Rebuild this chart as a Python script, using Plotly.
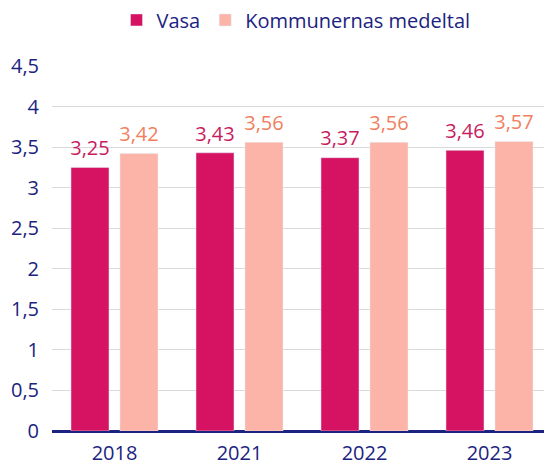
import plotly.graph_objects as go

years = ["2018", "2021", "2022", "2023"]
vasa = [3.25, 3.43, 3.37, 3.46]
kommuner = [3.42, 3.56, 3.56, 3.57]
y_ticks = [0, 0.5, 1, 1.5, 2, 2.5, 3, 3.5, 4, 4.5]

navy = "#1B2380"
font = "Open Sans"

fig = go.Figure()

series = [
    ("Vasa", vasa, "#D61262", "#C81C5E"),
    ("Kommunernas medeltal", kommuner, "#FBB4A7", "#F0805F"),
]

for name, vals, bar_col, lab_col in series:
    fig.add_trace(
        go.Bar(
            x=years,
            y=vals,
            name=name,
            marker=dict(color=bar_col),
            offsetgroup=name,
        )
    )

# value labels as text traces, grouped like the bars so they sit above them
for name, vals, bar_col, lab_col in series:
    fig.add_trace(
        go.Scatter(
            x=years,
            y=vals,
            mode="markers+text",
            text=[f"{v:.2f}".replace(".", ",") for v in vals],
            textposition="top center",
            textfont=dict(color=lab_col, size=20, family=font),
            marker=dict(size=10, opacity=0),
            offsetgroup=name,
            showlegend=False,
            hoverinfo="skip",
            cliponaxis=False,
        )
    )

# the page adds 8px body margin, so the figure is a bit smaller than the window
fig.update_layout(
    width=544,
    height=460,
    margin=dict(l=44, r=0, t=58, b=37, autoexpand=False),
    plot_bgcolor="white",
    paper_bgcolor="white",
    separators=", ",
    barmode="group",
    scattermode="group",
    bargap=0.216,
    bargroupgap=0.224,
    scattergap=0.216,
    font=dict(family=font, color=navy, size=20),
    showlegend=True,
    legend=dict(
        orientation="h",
        x=0.488,
        xanchor="center",
        y=0.974,
        yanchor="middle",
        yref="container",
        font=dict(size=20, color=navy),
        itemwidth=30,
        traceorder="normal",
    ),
    xaxis=dict(
        range=[-0.5, 3.5],
        showgrid=False,
        showline=False,
        ticks="",
        automargin=False,
        ticklabelstandoff=8,
        tickfont=dict(size=20, color=navy),
    ),
    yaxis=dict(
        range=[0, 4.5],
        tickvals=y_ticks,
        ticktext=[f"{v:g}".replace(".", ",") for v in y_ticks],
        showgrid=True,
        gridcolor="#DADADA",
        gridwidth=1,
        zeroline=True,
        zerolinecolor=navy,
        zerolinewidth=2.5,
        showline=False,
        ticks="",
        automargin=False,
        ticklabelstandoff=12,
        tickfont=dict(size=20, color=navy),
    ),
)

fig.write_html("out.html")
